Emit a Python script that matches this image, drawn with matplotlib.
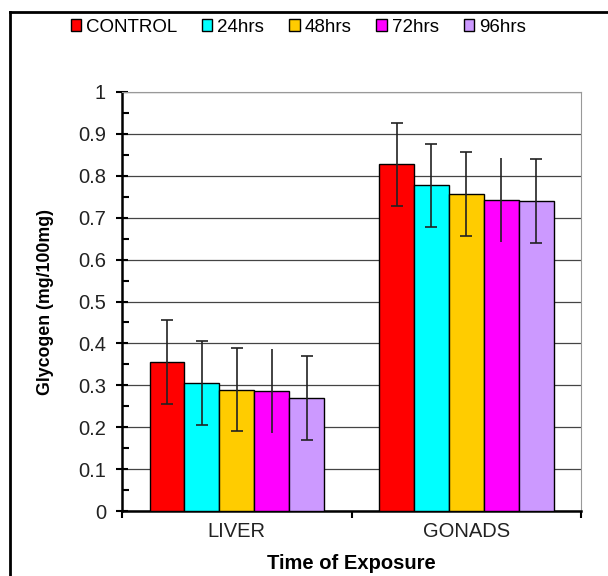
"""
Glycogen content in liver and gonads over time of exposure
"""

import matplotlib
matplotlib.use("Agg")
import matplotlib.pyplot as plt
from matplotlib.lines import Line2D
from matplotlib.ticker import MultipleLocator
import numpy as np

plt.rcParams['font.family'] = ['Liberation Sans', 'DejaVu Sans']

# data
tissues = ["LIVER", "GONADS"]
series = ["CONTROL", "24hrs", "48hrs", "72hrs", "96hrs"]
liver = [0.355, 0.305, 0.290, 0.286, 0.270]
gonads = [0.827, 0.777, 0.756, 0.742, 0.739]
liver_err = [0.100, 0.100, 0.100, 0.100, 0.100]
gonads_err = [0.100, 0.100, 0.100, 0.100, 0.100]
colors = ["#ff0000", "#00ffff", "#ffcc00", "#ff00ff", "#cc99ff"]
ytick_labels = ["0", "0.1", "0.2", "0.3", "0.4", "0.5", "0.6",
                "0.7", "0.8", "0.9", "1"]


def main():
    fig = plt.figure(figsize=(6.08, 5.76), dpi=100)
    ax = fig.add_axes([0.2007, 0.1128, 0.755, 0.7275])

    x = np.arange(len(tissues))
    width = 0.152
    values = np.array([liver, gonads]).T
    errors = np.array([liver_err, gonads_err]).T

    for i, name in enumerate(series):
        pos = x + (i - 2) * width
        ax.bar(pos, values[i], width, color=colors[i], edgecolor="black",
               linewidth=1.0, label=name, zorder=3)
        cap = 0 if name == "72hrs" else 4
        ax.errorbar(pos, values[i], yerr=errors[i], fmt="none",
                    ecolor="#222222", elinewidth=1.2, capsize=cap,
                    capthick=1.2, zorder=4)

    ax.set_xlim(-0.5, 1.5)
    ax.set_ylim(0, 1)
    ax.set_yticks(np.arange(0, 1.01, 0.1))
    ax.set_yticklabels(ytick_labels)
    ax.yaxis.set_minor_locator(MultipleLocator(0.05))
    ax.tick_params(axis="y", which="major", direction="inout", length=9,
                   width=1.5, labelsize=14.5, pad=7, labelcolor="#222222")
    ax.tick_params(axis="y", which="minor", direction="in", length=5,
                   width=1.5)

    # category ticks sit at the boundaries, labels at the centres
    ax.set_xticks([-0.5, 0.5, 1.5])
    ax.set_xticklabels([])
    ax.set_xticks(x, minor=True)
    ax.set_xticklabels(tissues, minor=True)
    ax.tick_params(axis="x", which="major", direction="out", length=5,
                   width=1.5)
    ax.tick_params(axis="x", which="minor", length=0, labelsize=14.5,
                   pad=8, labelcolor="#222222")

    ax.grid(axis="y", color="#444444", linewidth=0.9, zorder=0)
    ax.set_axisbelow(True)
    ax.spines["left"].set_linewidth(1.8)
    ax.spines["bottom"].set_linewidth(1.8)
    ax.spines["top"].set_color("#999999")
    ax.spines["right"].set_color("#999999")

    ax.set_ylabel("Glycogen (mg/100mg)", fontsize=12.8, fontweight="bold",
                  labelpad=17)
    ax.set_xlabel("Time of Exposure", fontsize=14.5, fontweight="bold",
                  labelpad=9)

    fig.legend(loc="center left", bbox_to_anchor=(0.116, 0.953), ncol=5,
               frameon=False, fontsize=13.5, handlelength=0.55,
               handleheight=0.55, handletextpad=0.27, columnspacing=1.33,
               borderaxespad=0, borderpad=0)

    # outer chart frame (left and top edges visible)
    fig.add_artist(Line2D([0.016, 0.016], [0.0, 0.98], color="black",
                          linewidth=2, transform=fig.transFigure))
    fig.add_artist(Line2D([0.016, 1.0], [0.98, 0.98], color="black",
                          linewidth=2, transform=fig.transFigure))

    fig.savefig("out.png", dpi=100)
    return 0


if __name__ == '__main__':
    main()
